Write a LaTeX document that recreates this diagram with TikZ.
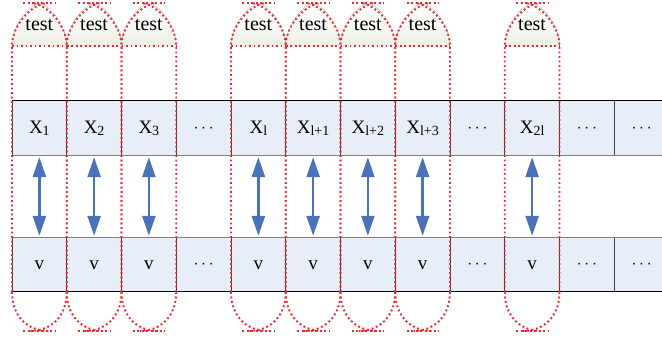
\documentclass[tikz,border=0pt]{standalone}
\usepackage{fontspec}
\setmainfont{Liberation Serif}
\usetikzlibrary{arrows.meta}
\definecolor{cellfill}{HTML}{E8EEF7}
\definecolor{arrowblue}{HTML}{4A72B8}
\definecolor{redd}{HTML}{EC2830}
\definecolor{domebot}{HTML}{EDF0E6}
\newcommand{\subx}[1]{\raisebox{-0.3ex}{\fontsize{14}{14}\selectfont #1}}
\begin{document}
\begin{tikzpicture}[x=1pt,y=-1pt,
  cell/.style={fill=cellfill, minimum width=54.75pt, minimum height=54.5pt, inner sep=0pt, font=\fontsize{19}{21}\selectfont},
  link/.style={arrowblue, line width=2.6pt, {Triangle[width=13pt,length=20pt]}-{Triangle[width=13pt,length=20pt]}, shorten <=1.5pt, shorten >=1.5pt},
  window/.style={redd, line width=1.9pt, dash pattern=on 1.9pt off 2.6pt},
  dome/.style={top color=white, bottom color=domebot, draw=none},
  label/.style={font=\fontsize{20}{22}\selectfont, inner sep=0pt},
  sep/.style={draw=black!75, line width=0.8pt}]
\useasboundingbox (0,0) rectangle (662,339);
% cells
\foreach \i/\t/\b in {1/X\subx{1}/v, 2/X\subx{2}/v, 3/X\subx{3}/v, 4/$\cdots$/$\cdots$,
  5/X\subx{l}/v, 6/X\subx{l+1}/v, 7/X\subx{l+2}/v, 8/X\subx{l+3}/v,
  9/$\cdots$/$\cdots$, 10/X\subx{2l}/v, 11/$\cdots$/$\cdots$, 12/$\cdots$/$\cdots$}{
  \node[cell] (t\i) at ({12+54.75*(\i-0.5)},128.25) {\t};
  \node[cell] (b\i) at ({12+54.75*(\i-0.5)},264.75) {\b};
}
% cell separators
\foreach \k in {0,...,11}{
  \draw[sep] ({12+54.75*\k},101) -- ({12+54.75*\k},155.5);
  \draw[sep] ({12+54.75*\k},237.5) -- ({12+54.75*\k},292);
}
\draw[black, line width=1pt] (12,101) -- (662,101);
\draw[black!50, line width=1.4pt] (12,155.5) -- (662,155.5);
\draw[black!50, line width=1.4pt] (12,237.5) -- (662,237.5);
\draw[black, line width=1pt] (12,292) -- (662,292);
% test windows
\foreach \i in {1,2,3,5,6,7,8,10}{
  \pgfmathsetmacro{\L}{12+54.75*(\i-1)}
  \pgfmathsetmacro{\R}{\L+54.75}
  \pgfmathsetmacro{\C}{\L+27.375}
  \fill[dome] (\L,46) .. controls (\L,26) and ({\C-10},4) .. (\C,4) .. controls ({\C+10},4) and (\R,26) .. (\R,46) -- cycle;
  \node[label] (w\i) at (\C,25) {test};
  \draw[window] (\L,46) -- (\R,46);
  \draw[window] (\L,292) -- (\L,46) .. controls (\L,26) and ({\C-9},5) .. ({\C+7},3);
  \draw[window] (\R,292) -- (\R,46) .. controls (\R,26) and ({\C+9},5) .. ({\C-7},3);
  \draw[window] ({\C-16},3) -- ({\C+16},3);
  \draw[window] (\L,292) .. controls (\L,318) and ({\C-10},331) .. ({\C+9},331);
  \draw[window] (\R,292) .. controls (\R,318) and ({\C+10},331) .. ({\C-9},331);
  \draw[window] ({\C-16},331) -- ({\C+16},331);
  \draw[link] (t\i.south) -- (b\i.north);
}
\end{tikzpicture}
\end{document}
